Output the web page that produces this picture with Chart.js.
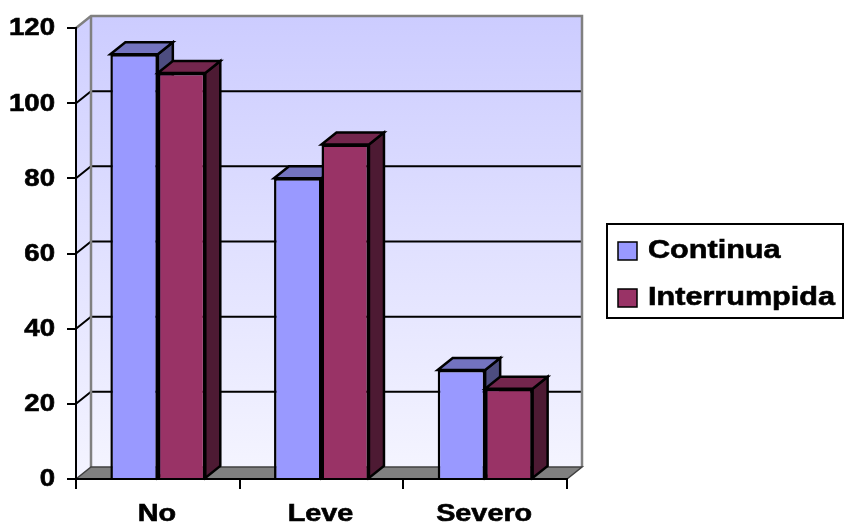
<!DOCTYPE html>
<html>
<head>
<meta charset="utf-8">
<script src="https://cdn.jsdelivr.net/npm/chart.js@4/dist/chart.umd.min.js"></script>
<style>
  html, body { margin: 0; padding: 0; background: #ffffff; }
  canvas { display: block; }
</style>
</head>
<body>
<canvas id="c" width="845" height="527"></canvas>
<script>
// Categories and series values
const categories = ['No', 'Leve', 'Severo'];
const continua = [113, 80, 29];
const interrumpida = [108, 89, 24];
const seriesNames = ['Continua', 'Interrumpida'];
const yTickValues = [0, 20, 40, 60, 80, 100, 120];

// Palette for the three visible faces of every column
const faces = [
  { front: '#9999FF', top: '#7373BF', side: '#4D4D80' },
  { front: '#993366', top: '#73264D', side: '#4D1A33' }
];

// Depth of the 3D box in pixels
const DX = 15, DY = 12;
const EDGE = 2.5;
const FONT = '"Liberation Sans", Arial, sans-serif';
const STRETCH = 1.2;

function wideText(ctx, text, x, y, size, align) {
  ctx.save();
  ctx.font = 'bold ' + size + 'px ' + FONT;
  ctx.fillStyle = '#000';
  ctx.strokeStyle = '#000';
  ctx.lineWidth = 0.6;
  ctx.textBaseline = 'middle';
  ctx.textAlign = align;
  ctx.translate(x, y);
  ctx.scale(STRETCH, 1);
  ctx.fillText(text, 0, 0);
  ctx.strokeText(text, 0, 0);
  ctx.restore();
}

function poly(ctx, pts, fill, stroke, lw) {
  ctx.beginPath();
  ctx.moveTo(pts[0][0], pts[0][1]);
  for (let i = 1; i < pts.length; i++) ctx.lineTo(pts[i][0], pts[i][1]);
  ctx.closePath();
  if (fill) { ctx.fillStyle = fill; ctx.fill(); }
  if (stroke) { ctx.strokeStyle = stroke; ctx.lineWidth = lw; ctx.lineJoin = 'miter'; ctx.stroke(); }
}

// Walls, floor, back gridlines and the 3D columns
const boxPlugin = {
  id: 'box3d',
  beforeDraw(chart) {
    const { ctx, chartArea: a, scales } = chart;
    const y = scales.y;
    const L = a.left, R = a.right, T = a.top, B = a.bottom;
    ctx.save();
    const g = ctx.createLinearGradient(0, T - DY, 0, B - DY);
    g.addColorStop(0, '#CCCCFF');
    g.addColorStop(1, '#F4F4FF');
    // back wall
    poly(ctx, [[L + DX, T - DY], [R + DX, T - DY], [R + DX, B - DY], [L + DX, B - DY]], g, null);
    // left wall
    const g2 = ctx.createLinearGradient(0, T, 0, B);
    g2.addColorStop(0, '#D0D0FF');
    g2.addColorStop(1, '#F4F4FF');
    poly(ctx, [[L, T], [L + DX, T - DY], [L + DX, B - DY], [L, B]], g2, null);
    // gridlines on the back wall with their diagonals on the side wall
    ctx.strokeStyle = '#000';
    ctx.lineWidth = 2;
    yTickValues.forEach(v => {
      if (v === 0 || v === yTickValues[yTickValues.length - 1]) return;
      const py = y.getPixelForValue(v);
      ctx.beginPath();
      ctx.moveTo(L, py);
      ctx.lineTo(L + DX, py - DY);
      ctx.lineTo(R + DX, py - DY);
      ctx.stroke();
    });
    // wall outlines
    ctx.strokeStyle = '#808080';
    ctx.lineWidth = 2.5;
    ctx.beginPath();
    ctx.moveTo(L, T);
    ctx.lineTo(L + DX, T - DY);
    ctx.lineTo(R + DX, T - DY);
    ctx.lineTo(R + DX, B - DY);
    ctx.stroke();
    ctx.beginPath();
    ctx.moveTo(L + DX, T - DY);
    ctx.lineTo(L + DX, B - DY);
    ctx.stroke();
    // floor
    poly(ctx, [[L, B], [R, B], [R + DX, B - DY], [L + DX, B - DY]], '#808080', '#404040', 1.5);
    ctx.restore();
  },
  // columns are painted left series first so the right neighbour hides the shared side
  beforeDatasetsDraw(chart) {
    const { ctx } = chart;
    ctx.save();
    for (let di = 0; di < chart.data.datasets.length; di++) {
      const meta = chart.getDatasetMeta(di);
      const f = faces[di];
      meta.data.forEach(bar => {
        const p = bar.getProps(['x', 'y', 'base', 'width'], true);
        const x0 = p.x - p.width / 2, x1 = p.x + p.width / 2;
        const yt = p.y, yb = p.base;
        poly(ctx, [[x1, yt], [x1 + DX, yt - DY], [x1 + DX, yb - DY], [x1, yb]], f.side, '#000', EDGE);
        poly(ctx, [[x0, yt], [x0 + DX, yt - DY], [x1 + DX, yt - DY], [x1, yt]], f.top, '#000', EDGE);
        bar.draw(ctx, chart.chartArea);
      });
    }
    ctx.restore();
  },
  beforeDatasetDraw() {
    return false;
  },
  afterDraw(chart) {
    const { ctx, chartArea: a, scales } = chart;
    // value axis labels
    yTickValues.forEach(v => {
      wideText(ctx, String(v), 55, scales.y.getPixelForValue(v) + 1, 23, 'right');
    });
    // category labels
    categories.forEach((c, i) => {
      wideText(ctx, c, scales.x.getPixelForValue(i) - 1, a.bottom + 35, 24, 'center');
    });
    // legend
    const lx = 607, ly = 224, lw = 236, lh = 94;
    ctx.save();
    ctx.fillStyle = '#fff';
    ctx.fillRect(lx, ly, lw, lh);
    ctx.strokeStyle = '#000';
    ctx.lineWidth = 2;
    ctx.strokeRect(lx, ly, lw, lh);
    chart.data.datasets.forEach((ds, i) => {
      const cy = ly + 27 + i * 47;
      ctx.fillStyle = ds.backgroundColor;
      ctx.fillRect(618, cy - 9, 19, 18);
      ctx.lineWidth = 1.5;
      ctx.strokeStyle = '#000';
      ctx.strokeRect(618, cy - 9, 19, 18);
      wideText(ctx, ds.label, 648, cy, 25.5, 'left');
    });
    ctx.restore();
  }
};

new Chart(document.getElementById('c'), {
  type: 'bar',
  data: {
    labels: categories,
    datasets: [
      { label: seriesNames[0], data: continua, backgroundColor: faces[0].front, borderColor: '#000', borderWidth: EDGE },
      { label: seriesNames[1], data: interrumpida, backgroundColor: faces[1].front, borderColor: '#000', borderWidth: EDGE }
    ]
  },
  options: {
    responsive: false,
    animation: false,
    devicePixelRatio: 1,
    layout: { padding: { left: 0, right: 278, top: 28, bottom: 0 } },
    datasets: { bar: { categoryPercentage: 0.58, barPercentage: 1 } },
    plugins: { legend: { display: false }, tooltip: { enabled: false } },
    scales: {
      x: {
        offset: true,
        grid: { offset: true, drawOnChartArea: false, drawTicks: true, tickLength: 10, color: '#000', lineWidth: 2 },
        border: { display: true, color: '#000', width: 2 },
        ticks: { display: false },
        afterFit(s) { s.height = 48; }
      },
      y: {
        min: 0, max: 120,
        afterBuildTicks(s) { s.ticks = yTickValues.map(v => ({ value: v })); },
        grid: { drawOnChartArea: false, drawTicks: true, tickLength: 9, color: '#000', lineWidth: 2 },
        border: { display: true, color: '#000', width: 2 },
        ticks: { display: false },
        afterFit(s) { s.width = 76; }
      }
    }
  },
  plugins: [boxPlugin]
});
</script>
</body>
</html>
